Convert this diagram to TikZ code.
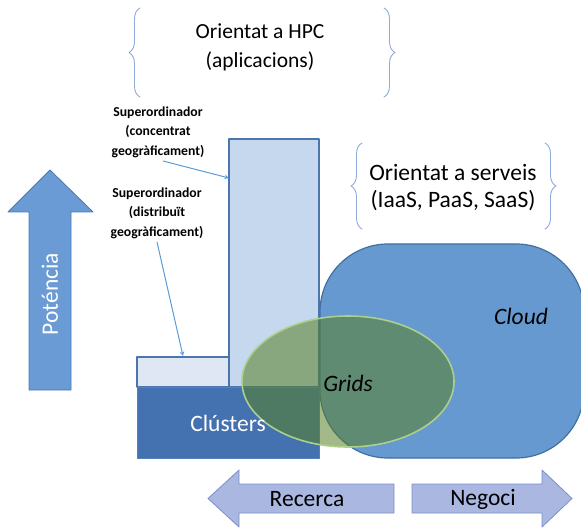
\documentclass[tikz,border=0pt]{standalone}
\usepackage{fontspec}
\setmainfont{Carlito}
\usetikzlibrary{decorations.pathreplacing}
\definecolor{vora}{RGB}{74,118,172}
\definecolor{blaupal}{RGB}{197,216,237}
\definecolor{blaumolt}{RGB}{222,231,243}
\definecolor{blaufosc}{RGB}{68,114,176}
\definecolor{blaunuvol}{RGB}{103,153,209}
\definecolor{voranuvol}{RGB}{66,112,160}
\definecolor{verdgrid}{RGB}{88,128,36}
\definecolor{verdclar}{RGB}{170,208,140}
\definecolor{blauclau}{RGB}{142,170,216}
\definecolor{blaupunter}{RGB}{91,155,213}
\definecolor{lila}{RGB}{169,183,225}
\definecolor{voralila}{RGB}{122,142,202}
\definecolor{blaufletxa}{RGB}{106,155,212}
\definecolor{vorafletxa}{RGB}{74,120,181}
\begin{document}
\begin{tikzpicture}[x=1pt, y=-1pt, >=stealth, line join=round,
  gran/.style={font=\fontsize{23.5}{27}\selectfont, align=center},
  nota/.style={font=\fontsize{13.7}{19.5}\selectfont\bfseries, align=center},
  clau/.style={draw=blauclau, line width=0.9pt, line cap=round, decorate, decoration={brace, amplitude=11pt}},
  fletxa/.style={draw=voralila, fill=lila, line width=0.8pt},
  punter/.style={->, draw=blaupunter, line width=1pt}]
\useasboundingbox (0,0) rectangle (581,529);
% blocs
\draw[fill=blaupal, draw=vora, line width=1.3pt] (229,139) rectangle (319,387);
\draw[fill=blaumolt, draw=vora, line width=1.3pt] (137,357) rectangle (229,387);
\draw[fill=blaufosc, draw=blaufosc!90!white, line width=1pt] (137,387) rectangle (319,458);
\draw[fill=blaunuvol, draw=voranuvol, line width=1.2pt, rounded corners=68pt] (320,244) rectangle (584,458);
\fill[verdgrid, fill opacity=0.55] (348,381.5) ellipse [x radius=106pt, y radius=65.5pt];
\draw[verdclar, line width=1.6pt] (348,381.5) ellipse [x radius=106pt, y radius=65.5pt];
% fletxes grosses
\draw[draw=vorafletxa, fill=blaufletxa, line width=0.8pt] (29,390)--(29,212)--(8,212)--(50,170)--(93,212)--(71,212)--(71,390)--cycle;
\draw[fletxa] (208,498.5)--(239,470)--(239,484)--(394,484)--(394,513)--(239,513)--(239,527)--cycle;
\draw[fletxa] (412,484)--(542,484)--(542,470)--(572,498.5)--(542,527)--(542,513)--(412,513)--cycle;
% claus
\draw[clau] (140,97)--(140,8);
\draw[clau] (384,8)--(384,97);
\draw[clau] (362,229)--(362,143);
\draw[clau] (545,143)--(545,229);
% textos
\node[gran, font=\fontsize{21.5}{29}\selectfont] (hpc) at (260,47) {Orientat a HPC\\(aplicacions)};
\node[gran] (serveis) at (453,188) {Orientat a serveis\\(IaaS, PaaS, SaaS)};
\node[nota] (conc) at (158,132) {Superordinador\\(concentrat\\geogràficament)};
\node[nota] (dist) at (157,213) {Superordinador\\(distribuït\\geogràficament)};
\node[gran, text=white] (clusters) at (228,423) {Clústers};
\node[gran, font=\fontsize{23.5}{27}\selectfont\itshape] (grids) at (348,383) {Grids};
\node[gran, font=\fontsize{23.5}{27}\selectfont\itshape] (cloud) at (521,316) {Cloud};
\node[gran, text=white, rotate=90] (potencia) at (50,294) {Poténcia};
\node[gran] (recerca) at (307,499) {Recerca};
\node[gran] (negoci) at (483,499) {Negoci};
% punters
\coordinate (torre) at (229,178);
\coordinate (petit) at (183,356);
\draw[punter] ([xshift=5pt]conc.south) -- (torre);
\draw[punter] (dist.south) -- (petit);
%\draw[red] (0,0) rectangle (581,529);
\end{tikzpicture}
\end{document}
